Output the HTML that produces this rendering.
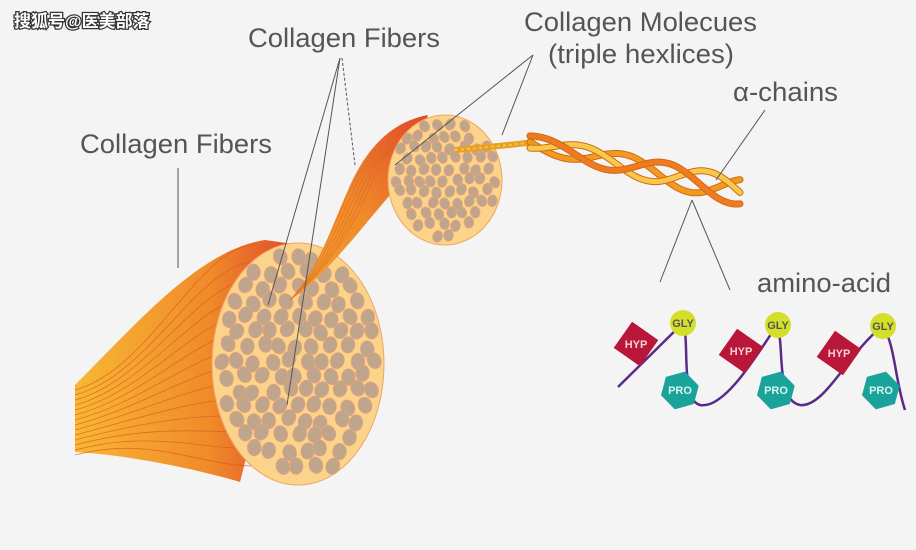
<!DOCTYPE html>
<html><head><meta charset="utf-8"><style>
html,body{margin:0;padding:0;background:#f4f4f4;}
svg{display:block;}
text{font-family:"Liberation Sans","Noto Sans CJK SC",sans-serif;}
</style></head><body>
<svg id="s" width="916" height="550" viewBox="0 0 916 550" xmlns="http://www.w3.org/2000/svg">
<defs>
<linearGradient id="fan" x1="0" y1="0" x2="1" y2="0">
<stop offset="0" stop-color="#f7b733"/><stop offset="0.6" stop-color="#f08a2a"/><stop offset="1" stop-color="#e0452a"/>
</linearGradient>
<linearGradient id="fan2" x1="0" y1="1" x2="1" y2="0">
<stop offset="0" stop-color="#f5a32c"/><stop offset="0.5" stop-color="#f08a2a"/><stop offset="1" stop-color="#e0452a"/>
</linearGradient>
</defs>
<rect width="916" height="550" fill="#f4f4f4"/>
<path d="M75,385 C140,320 200,250 265,240 L300,245 L240,482 C200,470 130,455 75,452 Z" fill="url(#fan)"/>
<g id="fanlines" stroke="#d9541f" stroke-width="0.8" fill="none" opacity="0.7"></g>
<ellipse cx="298" cy="364" rx="86" ry="121" fill="#fbd38a" stroke="#f0a560" stroke-width="1"/>
<g id="dots1"></g>
<path d="M288,302 C318,272 330,230 348,190 C365,150 390,122 428,115 L410,175 C380,200 340,265 288,302 Z" fill="url(#fan2)"/>
<g id="midlines" stroke="#d9601f" stroke-width="0.7" fill="none" opacity="0.6"></g>
<ellipse cx="445" cy="180" rx="57" ry="65" fill="#fbd38a" stroke="#f0a560"/>
<g id="dots2"></g>
<path d="M455,150 C480,148 510,145 535,142" stroke="#e8a020" stroke-width="6" fill="none"/>
<path d="M455,150 C480,148 510,145 535,142" stroke="#f5c050" stroke-width="2" fill="none" stroke-dasharray="3 3"/>
<g id="helix" fill="none" stroke-linecap="round"></g>
<g stroke="#555" stroke-width="1" fill="none">
<line x1="340" y1="58" x2="268" y2="305"/>
<line x1="340" y1="58" x2="287" y2="405"/>
<line x1="342" y1="58" x2="355" y2="165" stroke-dasharray="3 2"/>
<line x1="178" y1="168" x2="178" y2="268"/>
<line x1="533" y1="55" x2="395" y2="165"/>
<line x1="533" y1="55" x2="502" y2="135"/>
<line x1="765" y1="110" x2="716" y2="180"/>
<line x1="692" y1="200" x2="660" y2="282"/>
<line x1="692" y1="200" x2="730" y2="290"/>
</g>
<g fill="#555" font-size="27">
<text x="248" y="47" textLength="192" lengthAdjust="spacingAndGlyphs">Collagen Fibers</text>
<text x="80" y="153" textLength="192" lengthAdjust="spacingAndGlyphs">Collagen Fibers</text>
<text x="524" y="31" textLength="233" lengthAdjust="spacingAndGlyphs">Collagen Molecues</text>
<text x="548" y="63" textLength="186" lengthAdjust="spacingAndGlyphs">(triple hexlices)</text>
<text x="733" y="101" textLength="105" lengthAdjust="spacingAndGlyphs">α-chains</text>
<text x="757" y="292" textLength="134" lengthAdjust="spacingAndGlyphs">amino-acid</text>
</g>
<text x="14" y="27" font-size="17" font-weight="bold" fill="#fff" stroke="#333" stroke-width="2.5" paint-order="stroke">搜狐号@医美部落</text>
<path d="M618,387 L683,323 C690,340 680,400 700,405 C725,410 760,350 777,325 C785,345 775,400 800,405 C825,408 850,350 883,326 C895,345 895,380 905,410" stroke="#5a2a8a" stroke-width="2.5" fill="none"/>
<g font-size="11" font-weight="bold" text-anchor="middle">
<rect x="620" y="328" width="32" height="32" fill="#b8173a" transform="rotate(35 636 344)"/>
<text x="636" y="348" fill="#f8d0d8">HYP</text>
<rect x="725" y="335" width="32" height="32" fill="#b8173a" transform="rotate(35 741 351)"/>
<text x="741" y="355" fill="#f8d0d8">HYP</text>
<rect x="823" y="337" width="32" height="32" fill="#b8173a" transform="rotate(35 839 353)"/>
<text x="839" y="357" fill="#f8d0d8">HYP</text>
<circle cx="683" cy="323" r="13" fill="#d4df2a"/><text x="683" y="327" fill="#555">GLY</text>
<circle cx="778" cy="325" r="13" fill="#d4df2a"/><text x="778" y="329" fill="#555">GLY</text>
<circle cx="883" cy="326" r="13" fill="#d4df2a"/><text x="883" y="330" fill="#555">GLY</text>
<polygon points="680,371 697,381 697,400 680,410 663,400 663,381" fill="#1aa39a" transform="rotate(15 680 390)"/>
<text x="680" y="394" fill="#d8f5f0">PRO</text>
<polygon points="776,371 793,381 793,400 776,410 759,400 759,381" fill="#1aa39a" transform="rotate(15 776 390)"/>
<text x="776" y="394" fill="#d8f5f0">PRO</text>
<polygon points="881,371 898,381 898,400 881,410 864,400 864,381" fill="#1aa39a" transform="rotate(15 881 390)"/>
<text x="881" y="394" fill="#d8f5f0">PRO</text>
</g>
</svg>
<script>
var NS="http://www.w3.org/2000/svg";
function el(p,t,a){var e=document.createElementNS(NS,t);for(var k in a)e.setAttribute(k,a[k]);p.appendChild(e);return e;}
var fl=document.getElementById("fanlines");
for(var i=0;i<14;i++){var y0=390+i*5,yt=245+i*17;el(fl,"path",{d:"M75,"+y0+" C150,"+(y0-20)+" 200,"+(yt)+" 255,"+yt});}
var ml=document.getElementById("midlines");
for(var i=0;i<6;i++){el(ml,"path",{d:"M290,300 C"+(318+i*4)+","+(270-i*2)+" "+(332+i*5)+","+(228-i*2)+" "+(350+i*5)+","+(190-i*3)+" S"+(395+i*3)+","+(125+i*6)+" "+(425-i*2)+","+(118+i*9)});}
function dots(g,cx,cy,rx,ry,step,r,seed){var s=seed;function rnd(){s=(s*9301+49297)%233280;return s/233280;}
var row=0;for(var y=cy-ry;y<cy+ry+step;y+=step*0.87){row++;for(var x=cx-rx-step;x<cx+rx+step;x+=step){var px=x+(row%2?step/2:0)+(rnd()-0.5)*step*0.35,py=y+(rnd()-0.5)*step*0.35;
var dx=(px-cx)/(rx-r),dy=(py-cy)/(ry-r);if(dx*dx+dy*dy<1)el(g,"ellipse",{cx:px.toFixed(1),cy:py.toFixed(1),rx:r,ry:(r*1.2).toFixed(1),fill:"#bfa58c",stroke:"#e7a27a","stroke-width":0.8,transform:"rotate("+Math.round(rnd()*60-30)+" "+px.toFixed(1)+" "+py.toFixed(1)+")"});}}}
dots(document.getElementById("dots1"),298,364,86,121,17,6.8,7);
dots(document.getElementById("dots2"),445,180,57,65,12.5,4.8,3);
var h=document.getElementById("helix");
var cols=["#f29a1f","#f7c84a","#f07a1f"];
for(var k=0;k<3;k++){var d="";for(var t=0;t<=1.001;t+=0.01){var x=530+t*210,y=142+t*50+Math.sin(t*10.5+k*2.1)*(7+t*7);d+=(t==0?"M":"L")+x.toFixed(1)+","+y.toFixed(1);}
el(h,"path",{d:d,stroke:"#d06a18","stroke-width":7});el(h,"path",{d:d,stroke:cols[k],"stroke-width":5});}
</script>
</body></html>
